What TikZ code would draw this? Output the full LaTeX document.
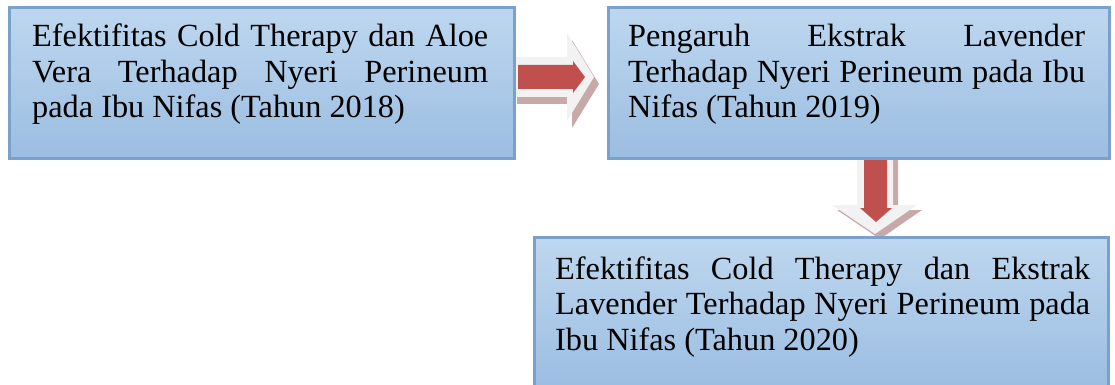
\documentclass[tikz,border=0pt]{standalone}
\usepackage{fontspec}
\setmainfont{Liberation Serif}
\definecolor{boxtop}{RGB}{190,215,239}
\definecolor{boxbot}{RGB}{155,189,225}
\definecolor{boxline}{RGB}{122,160,204}
\definecolor{arrred}{RGB}{192,80,77}
\definecolor{arrface}{RGB}{242,242,242}
\definecolor{arrshadow}{RGB}{180,140,140}
\newcommand\jl[1]{\makebox[\hsize][s]{#1}\par}
\newcommand\tbox[2]{\vtop{\hsize=#1\parindent=0pt\parskip=0pt\fontsize{32.3}{35.5}\selectfont #2}}
\tikzset{
  panel/.style={draw=boxline, line width=3pt, top color=boxtop, bottom color=boxbot, inner sep=0pt, anchor=north west},
  txt/.style={anchor=base west, inner sep=0pt, text=black},
  arrowface/.style={fill=arrface, draw=none},
  arrowshade/.style={fill=arrshadow, draw=none, opacity=0.75},
  arrowbody/.style={fill=arrred, draw=none}
}
\begin{document}
\begin{tikzpicture}[x=1pt,y=-1pt]
\useasboundingbox (0,0) rectangle (1115,385);
% right block arrow
\coordinate (ra) at (512,77);
\fill[arrowshade] ([shift={(5,7)}]ra) ++(0,-20) -- ++(55,0) -- ++(0,-24) -- ++(27,44) -- ++(-27,44) -- ++(0,-24) -- ++(-55,0) -- cycle;
\fill[arrowface] (ra) ++(0,-20) -- ++(55,0) -- ++(0,-24) -- ++(27,44) -- ++(-27,44) -- ++(0,-24) -- ++(-55,0) -- cycle;
\fill[arrowbody] (518,65) -- (573,65) -- (573,61) -- (585,77) -- (573,93) -- (573,89) -- (518,89) -- cycle;
% down block arrow
\coordinate (da) at (875,152);
\fill[arrowshade] ([shift={(5,5)}]da) ++(-18,0) -- ++(36,0) -- ++(0,53) -- ++(24,0) -- ++(-42,29) -- ++(-43,-29) -- ++(25,0) -- cycle;
\fill[arrowface] (da) ++(-18,0) -- ++(36,0) -- ++(0,53) -- ++(24,0) -- ++(-42,29) -- ++(-43,-29) -- ++(25,0) -- cycle;
\fill[arrowbody] (864,160) -- (887,160) -- (887,208) -- (892,208) -- (876,222) -- (860,208) -- (864,208) -- cycle;
% boxes
\node[panel, minimum width=505pt, minimum height=151pt] (b1) at (8,6) {};
\node[panel, minimum width=501pt, minimum height=151pt] (b2) at (607,6) {};
\node[panel, minimum width=574pt, minimum height=152pt] (b3) at (533,236) {};
% texts
\node[txt] (t1) at (32,47) {\tbox{456pt}{\jl{Efektifitas Cold Therapy dan Aloe}\jl{Vera Terhadap Nyeri Perineum}pada Ibu Nifas (Tahun 2018)\par}};
\node[txt] (t2) at (628,47) {\tbox{457pt}{\jl{Pengaruh Ekstrak Lavender}\jl{Terhadap Nyeri Perineum pada Ibu}Nifas (Tahun 2019)\par}};
\node[txt] (t3) at (555,279) {\tbox{535pt}{\jl{Efektifitas Cold Therapy dan Ekstrak}\jl{Lavender Terhadap Nyeri Perineum pada}Ibu Nifas (Tahun 2020)\par}};
\end{tikzpicture}
\end{document}
